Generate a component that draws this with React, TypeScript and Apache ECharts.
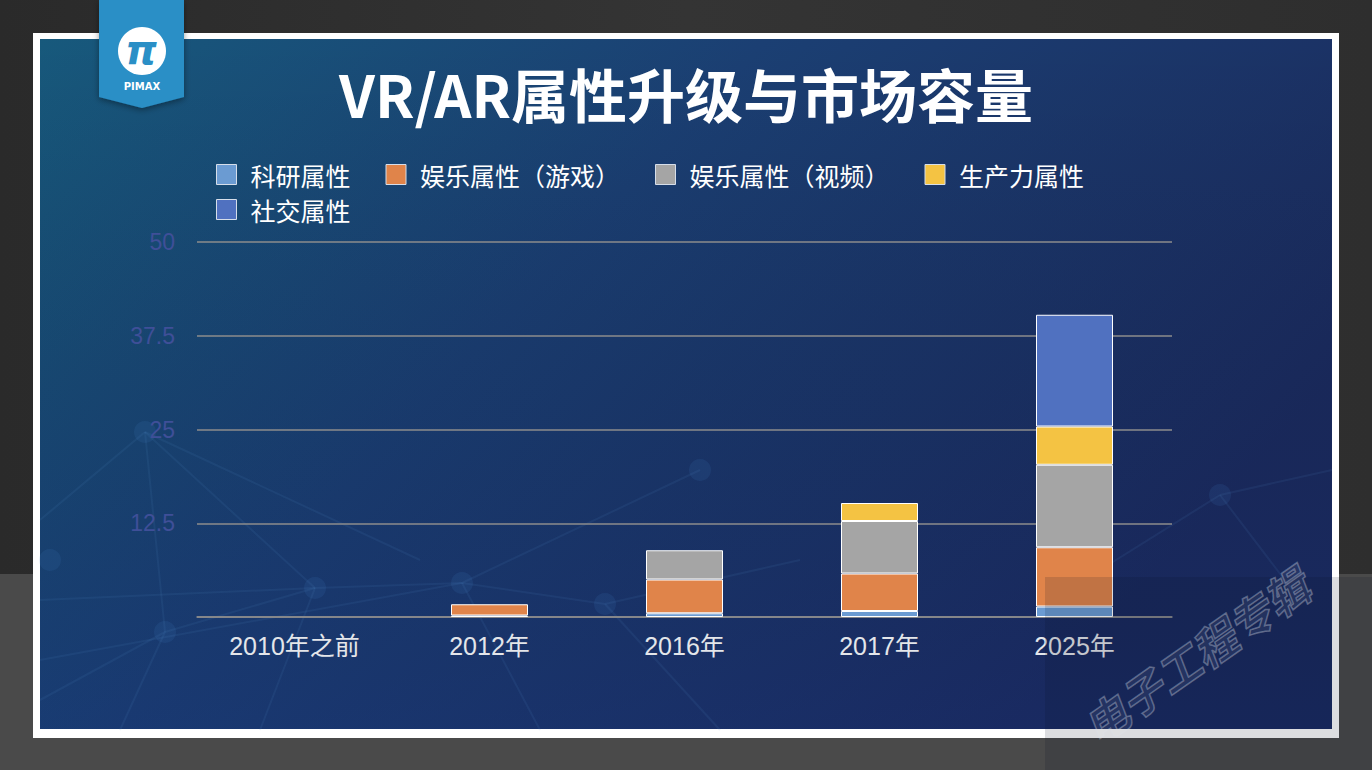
import React, { useEffect, useRef } from "react";
import * as echarts from "echarts";

const categories = ["2010年之前", "2012年", "2016年", "2017年", "2025年"];
const seriesNames = ["科研属性", "娱乐属性（游戏）", "娱乐属性（视频）", "生产力属性", "社交属性"];
const research = [null, 0.2, 0.5, 0.8, 1.4];
const gaming = [null, 1.5, 4.5, 5.0, 7.9];
const video = [null, null, 3.9, 7.0, 11.0];
const productivity = [null, null, null, 2.4, 5.1];
const social = [null, null, null, null, 14.9];
const yTicks = [0, 12.5, 25, 37.5, 50];
const colors = ["#6b9bd2", "#e0844a", "#a5a5a5", "#f4c343", "#5071c0"];

const W = 1372;
const H = 770;

const nodes: [number, number][] = [
  [145, 432], [315, 588], [165, 632], [462, 583], [605, 604], [50, 560], [1220, 495], [700, 470],
];
const links: [number, number, number, number][] = [
  [145, 432, 315, 588], [145, 432, 165, 632], [145, 432, 40, 520], [145, 432, 420, 560],
  [315, 588, 462, 583], [462, 583, 605, 604], [165, 632, 315, 588], [40, 600, 315, 588],
  [165, 632, 120, 730], [462, 583, 540, 730], [605, 604, 720, 730], [315, 588, 260, 730],
  [40, 660, 462, 583], [605, 604, 800, 560], [1220, 495, 1332, 470], [1220, 495, 1100, 570],
  [1220, 495, 1300, 600], [40, 700, 165, 632], [462, 583, 700, 470],
];

export default function App() {
  const ref = useRef<HTMLDivElement>(null);
  useEffect(() => {
    document.body.style.margin = "0";
    const chart = echarts.init(ref.current!, null, { renderer: "svg" });
    const bg: any[] = [
      { type: "rect", z: -20, shape: { x: 0, y: 0, width: W, height: 574 },
        style: { fill: new echarts.graphic.LinearGradient(0, 0, 1, 0, [
          { offset: 0, color: "#2a2a2a" }, { offset: 0.5, color: "#343434" }, { offset: 1, color: "#2e2e2e" }]) } },
      { type: "rect", z: -20, shape: { x: 0, y: 574, width: W, height: H - 574 }, style: { fill: "#4a4a4a" } },
      { type: "rect", z: -19, shape: { x: 33, y: 33, width: 1306, height: 705 }, style: { fill: "#ffffff" } },
      { type: "rect", z: -18, shape: { x: 40, y: 39, width: 1292, height: 690 },
        style: { fill: new echarts.graphic.LinearGradient(0, 0, 1, 0.5, [
          { offset: 0, color: "#17597c" }, { offset: 0.45, color: "#1b3f73" }, { offset: 1, color: "#1b2b5e" }]) } },
      { type: "rect", z: -17, shape: { x: 40, y: 39, width: 1292, height: 690 },
        style: { fill: new echarts.graphic.LinearGradient(0, 0, 0, 1, [
          { offset: 0, color: "rgba(0,0,0,0)" }, { offset: 1, color: "rgba(20,40,110,0.25)" }]) } },
    ];
    links.forEach((l) => {
      bg.push({ type: "line", z: -16, shape: { x1: l[0], y1: l[1], x2: l[2], y2: l[3] },
        style: { stroke: "rgba(90,150,210,0.1)", lineWidth: 2 } });
    });
    nodes.forEach((n) => {
      bg.push({ type: "circle", z: -16, shape: { cx: n[0], cy: n[1], r: 11 },
        style: { fill: "rgba(70,130,200,0.13)" } });
    });
    const logo: any[] = [
      { type: "polygon", z: 50, shape: { points: [[99, 0], [184, 0], [184, 97], [142, 108], [99, 97]] },
        style: { fill: "#2a8fc6", shadowBlur: 6, shadowColor: "rgba(0,0,0,0.4)", shadowOffsetY: 2 } },
      { type: "circle", z: 51, shape: { cx: 142, cy: 51, r: 24 }, style: { fill: "#ffffff" } },
      { type: "text", z: 52, x: 141, y: 50, style: { text: "π", fill: "#2a8fc6", font: "italic bold 40px 'DejaVu Sans'", align: "center", verticalAlign: "middle" } },
      { type: "text", z: 52, x: 142, y: 86, style: { text: "PIMAX", fill: "#ffffff", font: "bold 10px 'DejaVu Sans'", align: "center", verticalAlign: "middle" } },
    ];
    const overlay: any[] = [
      { type: "rect", z: 90, shape: { x: 1045, y: 577, width: W - 1045, height: H - 577 }, style: { fill: "rgba(10,15,35,0.14)" } },
      { type: "text", z: 91, x: 1195, y: 655, rotation: (35 * Math.PI) / 180,
        style: { text: "电子工程专辑", fill: "rgba(255,255,255,0.08)", stroke: "rgba(220,225,235,0.35)", lineWidth: 1.5,
          font: "italic bold 44px 'Noto Sans CJK SC'", align: "center", verticalAlign: "middle" } },
    ];
    const data = [research, gaming, video, productivity, social];
    const legendText = { color: "#ffffff", fontSize: 25, fontFamily: "'Noto Sans CJK SC'", padding: [0, 0, 0, 9] };
    chart.setOption({
      animation: false,
      title: {
        text: "VR/AR属性升级与市场容量", left: "center", top: 59,
        textStyle: { color: "#ffffff", fontSize: 58, fontWeight: "bold", fontFamily: "'Noto Sans CJK SC'" },
      },
      legend: [
        { data: seriesNames.slice(0, 4), left: 216, top: 162, padding: 0, itemWidth: 20, itemHeight: 20, itemGap: 35,
          icon: "rect", itemStyle: { borderColor: "#d6deea", borderWidth: 1 }, textStyle: legendText },
        { data: seriesNames.slice(4), left: 216, top: 197, padding: 0, itemWidth: 20, itemHeight: 20,
          icon: "rect", itemStyle: { borderColor: "#d6deea", borderWidth: 1 }, textStyle: legendText },
      ],
      grid: { left: 197, right: W - 1172, top: 242, bottom: H - 617 },
      xAxis: {
        type: "category", data: categories,
        axisLine: { lineStyle: { color: "#8c8c8c", width: 1.5 } },
        axisTick: { show: false },
        axisLabel: { color: "#e4e6ea", fontSize: 25, margin: 16, fontFamily: "'Liberation Sans','Noto Sans CJK SC'" },
      },
      yAxis: {
        type: "value", min: yTicks[0], max: yTicks[yTicks.length - 1], interval: 12.5,
        axisLine: { show: false }, axisTick: { show: false },
        splitLine: { lineStyle: { color: "#8c8c8c", width: 1.5 } },
        axisLabel: { color: "#3f4f98", fontSize: 23, margin: 22, fontFamily: "'Liberation Sans'",
          formatter: (v: number) => (v === 0 ? "" : String(v)) },
      },
      series: seriesNames.map((name, i) => ({
        name, type: "bar", stack: "total", barWidth: 77, data: data[i],
        itemStyle: { color: colors[i], borderColor: "#ffffff", borderWidth: 1 },
      })),
      graphic: { elements: [...bg, ...logo, ...overlay] },
    });
    return () => chart.dispose();
  }, []);
  return <div ref={ref} style={{ width: W, height: H, position: "absolute", left: 0, top: 0 }} />;
}
